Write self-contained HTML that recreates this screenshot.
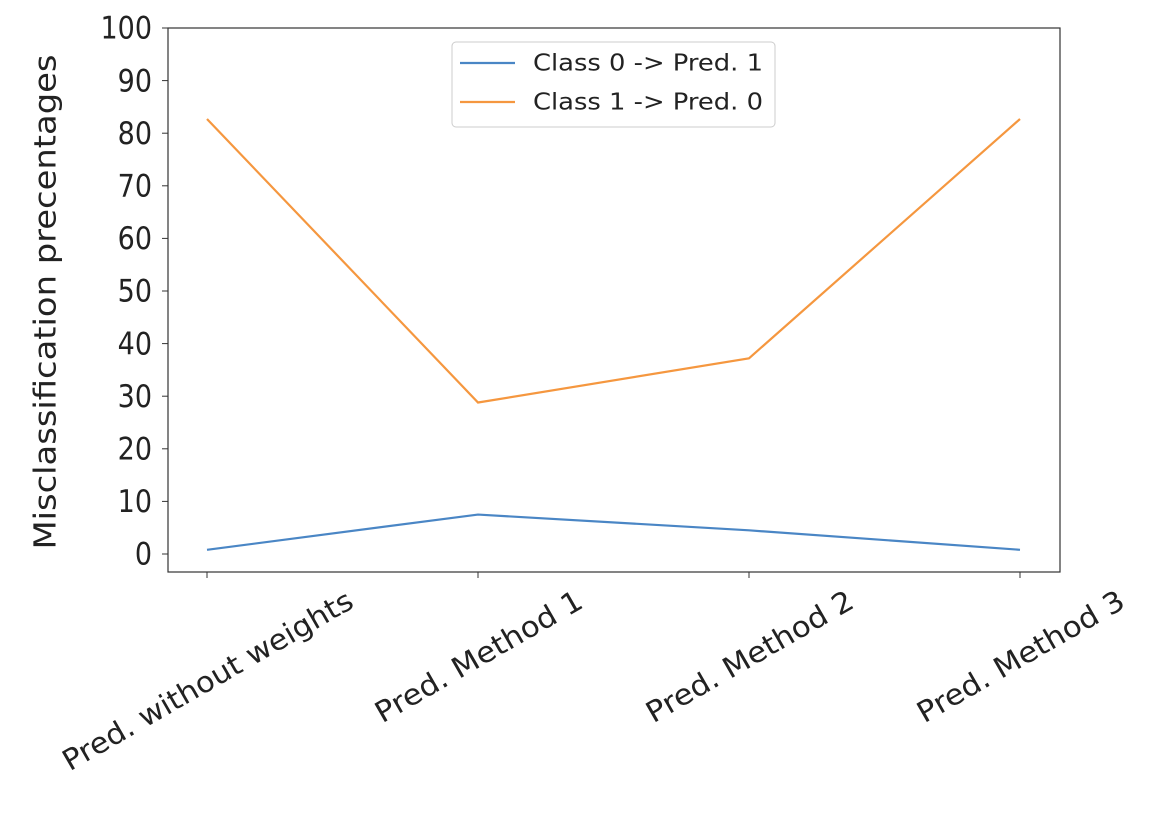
<!DOCTYPE html>
<html><head><meta charset="utf-8"><style>
body{margin:0;background:#fff;width:1168px;height:811px;overflow:hidden}
text{font-family:"DejaVu Sans","Liberation Sans",sans-serif;fill:#222}
</style></head><body>
<svg width="1168" height="811">
<g id="plot"></g>
</svg>
<script>
const categories=["Pred. without weights","Pred. Method 1","Pred. Method 2","Pred. Method 3"];
const class0=[0.8,7.5,4.5,0.8];
const class1=[82.7,28.8,37.2,82.7];
const yTicks=[0,10,20,30,40,50,60,70,80,90,100];
const seriesNames=["Class 0 -> Pred. 1","Class 1 -> Pred. 0"];
const L=168,R=1060,T=28,B=572;
const x=i=>207+i*271;
const y=v=>554-v*5.26;
const g=document.getElementById('plot');
const NS="http://www.w3.org/2000/svg";
function mk(tag,a,txt){const e=document.createElementNS(NS,tag);for(const k in a)e.setAttribute(k,a[k]);if(txt!=null)e.textContent=txt;g.appendChild(e);return e;}
let fr=mk('rect',{x:L,y:T,width:R-L,height:B-T,fill:'none',stroke:'#333','stroke-width':1.2});


yTicks.forEach(v=>{
 let t=mk('line',{x1:L-6,x2:L,y1:y(v),y2:y(v),stroke:'#333'});
 
 
 let l=mk('text',{transform:`translate(152 ${y(v)}) scale(1 1.15)`,'text-anchor':'end','dominant-baseline':'central','font-size':27},v);
 
 
});
categories.forEach((c,i)=>{
 let t=mk('line',{x1:x(i),x2:x(i),y1:B,y2:B+6,stroke:'#333'});
 
 
 const len=i==0?330:234;
 const cy=i==0?681:657;
 let l=mk('text',{transform:`translate(${x(i)+1} ${cy}) rotate(-30) scale(1 1.2)`,'text-anchor':'middle','dominant-baseline':'central','font-size':24,textLength:len,lengthAdjust:'spacingAndGlyphs'},c);
 
 
});
const yt=mk('text',{transform:'translate(46 302) rotate(-90)','text-anchor':'middle','dominant-baseline':'central','font-size':30,textLength:495,lengthAdjust:'spacingAndGlyphs'},'Misclassification precentages');


[[class0,'#4a86c5'],[class1,'#f5973f']].forEach(([d,c],k)=>{
 let p=mk('polyline',{points:d.map((v,i)=>x(i)+','+y(v)).join(' '),fill:'none',stroke:c,'stroke-width':2.2});
 
 
});
let lb=mk('rect',{x:452,y:42,width:323,height:85,rx:4,fill:'#fff',stroke:'#ccc'});


['#4a86c5','#f5973f'].forEach((c,k)=>{
 let yy=63+k*39;
 let ln=mk('line',{x1:460,x2:515,y1:yy,y2:yy,stroke:c,'stroke-width':2.2});
 
 
 let t=mk('text',{transform:`translate(533 ${yy}) scale(1 1.2)`,'dominant-baseline':'central','font-size':19,textLength:230,lengthAdjust:'spacingAndGlyphs'},seriesNames[k]);
 
 
});
</script>
</body></html>
